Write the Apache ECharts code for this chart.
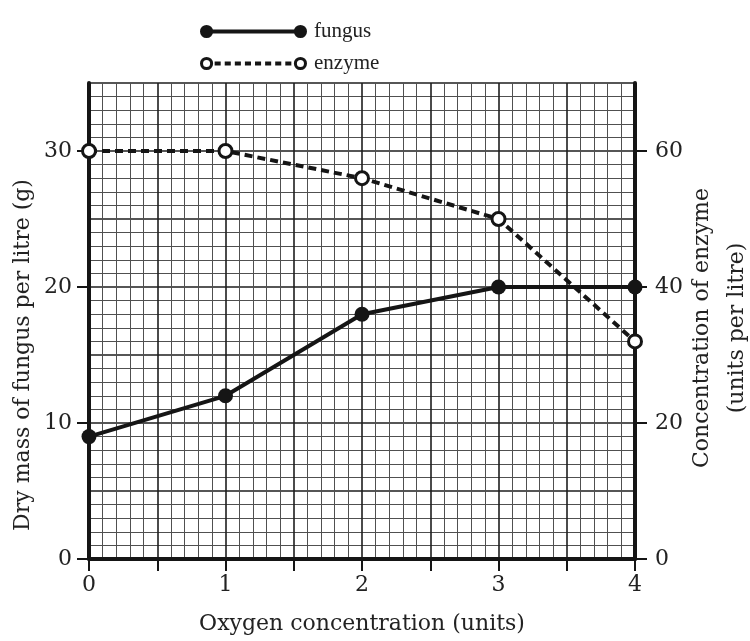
<!DOCTYPE html>
<html>
<head>
<meta charset="utf-8">
<script src="https://cdn.jsdelivr.net/npm/echarts@6/dist/echarts.min.js"></script>
<style>
html,body{margin:0;padding:0;background:#fff;}
#chart{width:750px;height:641px;}
</style>
</head>
<body>
<div id="chart"></div>
<script>
// Data
var oxygen = [0, 1, 2, 3, 4];
var fungusMass = [9, 12, 18, 20, 20];        // g per litre (left axis)
var enzymeConc = [60, 60, 56, 50, 32];       // units per litre (right axis)
var seriesNames = ['fungus', 'enzyme'];
var xTitle = 'Oxygen concentration (units)';
var yLeftTitle = 'Dry mass of fungus per litre (g)';
var yRightTitle = 'Concentration of enzyme\n(units per litre)';

var AXFONT = 'DejaVu Serif';
var LGFONT = 'Liberation Serif';
var INK = '#151515';

var fungusIcon = 'path://M0.5,7 A6.5,6.5 0 1,1 13.5,7 A6.5,6.5 0 1,1 0.5,7 Z M7,5 L100,5 L100,9 L7,9 Z M93.5,7 A6.5,6.5 0 1,1 106.5,7 A6.5,6.5 0 1,1 93.5,7 Z';
var enzymeIcon = 'path://M0.5,7 A6.5,6.5 0 1,1 13.5,7 A6.5,6.5 0 1,1 0.5,7 Z M3.5,7 A3.5,3.5 0 1,0 10.5,7 A3.5,3.5 0 1,0 3.5,7 Z ' +
  'M15,5 L21,5 L21,9 L15,9 Z M25,5 L31,5 L31,9 L25,9 Z M35,5 L41,5 L41,9 L35,9 Z M45,5 L51,5 L51,9 L45,9 Z ' +
  'M55,5 L61,5 L61,9 L55,9 Z M65,5 L71,5 L71,9 L65,9 Z M75,5 L81,5 L81,9 L75,9 Z M85,5 L91,5 L91,9 L85,9 Z ' +
  'M93.5,7 A6.5,6.5 0 1,1 106.5,7 A6.5,6.5 0 1,1 93.5,7 Z M96.5,7 A3.5,3.5 0 1,0 103.5,7 A3.5,3.5 0 1,0 96.5,7 Z';

var chart = echarts.init(document.getElementById('chart'));
var textStyle = {fontFamily: AXFONT, fontSize: 22, color: '#222'};

chart.setOption({
  animation: false,
  backgroundColor: '#fff',
  textStyle: {fontFamily: AXFONT},
  legend: {
    left: 200, top: 21, orient: 'vertical', padding: 0,
    itemWidth: 107, itemHeight: 14, itemGap: 11,
    textStyle: {fontFamily: LGFONT, fontSize: 21, color: '#222', padding: [0, 0, 10, 2]},
    itemStyle: {color: INK, borderWidth: 0, borderColor: 'transparent'},
    data: [
      {name: seriesNames[0], icon: fungusIcon},
      {name: seriesNames[1], icon: enzymeIcon}
    ]
  },
  grid: {left: 89, right: 115, top: 83, bottom: 82, outerBoundsMode: 'none', containLabel: false},
  xAxis: {
    type: 'value', min: 0, max: 4, interval: 0.5,
    name: xTitle, nameLocation: 'middle', nameGap: 54, nameMoveOverlap: false,
    nameTextStyle: textStyle,
    axisLine: {show: true, onZero: false, lineStyle: {color: INK, width: 4}},
    axisTick: {show: true, length: 12, lineStyle: {color: INK, width: 2}},
    axisLabel: Object.assign({margin: 15, formatter: function (v) { return Number.isInteger(v) ? String(v) : ''; }}, textStyle),
    splitLine: {show: true, lineStyle: {color: '#1e1e1e', width: 1.6}},
    minorTick: {show: false, splitNumber: 5},
    minorSplitLine: {show: true, lineStyle: {color: '#505050', width: 1}}
  },
  yAxis: [
    {
      type: 'value', min: 0, max: 35, interval: 10, position: 'left',
      name: yLeftTitle, nameLocation: 'middle', nameRotate: 90, nameGap: 55, nameMoveOverlap: false,
      nameTextStyle: Object.assign({padding: [0, 68, 0, 0]}, textStyle),
      axisLine: {show: true, onZero: false, lineStyle: {color: INK, width: 4}},
      axisTick: {show: true, length: 12, lineStyle: {color: INK, width: 2}},
      axisLabel: Object.assign({margin: 17, showMaxLabel: false}, textStyle),
      splitLine: {show: false}
    },
    {
      type: 'value', min: 0, max: 70, interval: 20, position: 'right',
      name: yRightTitle, nameLocation: 'middle', nameRotate: 90, nameGap: 50, nameMoveOverlap: false,
      nameTextStyle: Object.assign({padding: [0, 14, 0, 0], lineHeight: 35, align: 'center'}, textStyle),
      axisLine: {show: true, onZero: false, lineStyle: {color: INK, width: 4}},
      axisTick: {show: true, length: 12, lineStyle: {color: INK, width: 2}},
      axisLabel: Object.assign({margin: 20, showMaxLabel: false}, textStyle),
      splitLine: {show: false}
    },
    {
      type: 'value', min: 0, max: 35, interval: 5, position: 'left',
      axisLine: {show: false}, axisTick: {show: false}, axisLabel: {show: false},
      splitLine: {show: true, lineStyle: {color: '#1e1e1e', width: 1.6}},
      minorTick: {show: false, splitNumber: 5},
      minorSplitLine: {show: true, lineStyle: {color: '#505050', width: 1}}
    }
  ],
  series: [
    {
      name: seriesNames[0], type: 'line', yAxisIndex: 0, z: 5,
      data: oxygen.map(function (x, i) { return [x, fungusMass[i]]; }),
      symbol: 'circle', symbolSize: 15,
      itemStyle: {color: INK},
      lineStyle: {color: INK, width: 4}
    },
    {
      name: seriesNames[1], type: 'line', yAxisIndex: 1, z: 5,
      data: oxygen.map(function (x, i) { return [x, enzymeConc[i]]; }),
      symbol: 'circle', symbolSize: 13,
      itemStyle: {color: '#fff', borderColor: INK, borderWidth: 3},
      lineStyle: {color: INK, width: 4, type: [8, 5]}
    }
  ]
});
</script>
</body>
</html>
